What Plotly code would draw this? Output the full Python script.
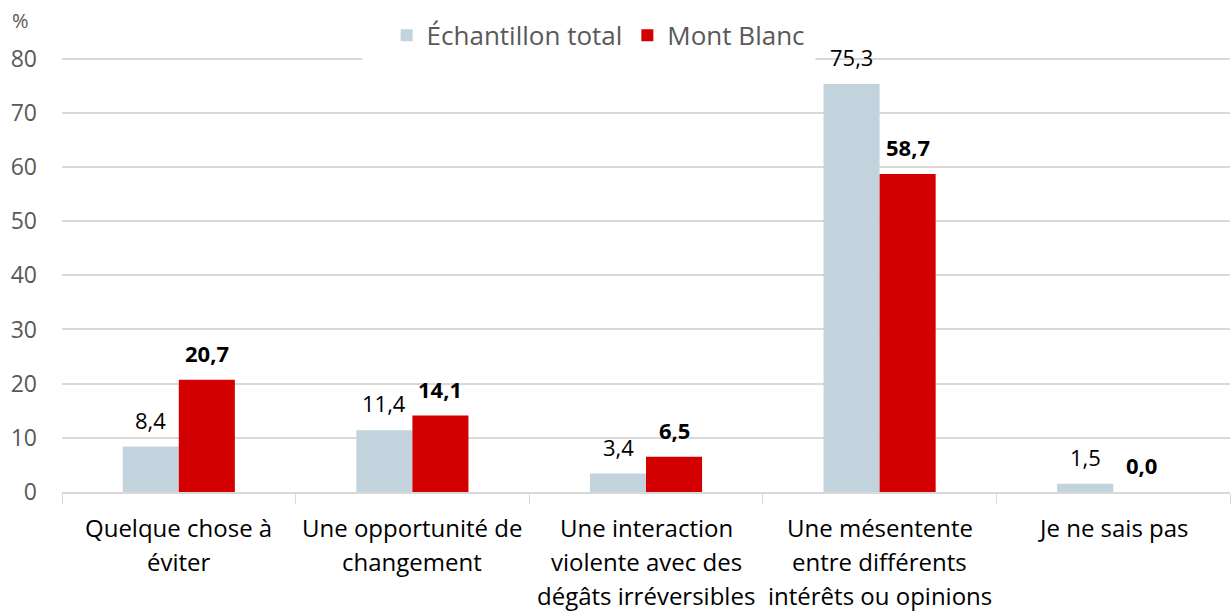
import plotly.graph_objects as go

# data
categories = ["Quelque chose à éviter", "Une opportunité de changement",
              "Une interaction violente avec des dégâts irréversibles",
              "Une mésentente entre différents intérêts ou opinions",
              "Je ne sais pas"]
cat_lines = [["Quelque chose à", "éviter"],
             ["Une opportunité de", "changement"],
             ["Une interaction", "violente avec des", "dégâts irréversibles"],
             ["Une mésentente", "entre différents", "intérêts ou opinions"],
             ["Je ne sais pas"]]
total_values = [8.4, 11.4, 3.4, 75.3, 1.5]
montblanc_values = [20.7, 14.1, 6.5, 58.7, 0.0]
series_names = ["Échantillon total", "Mont Blanc"]

GREY = "#C3D3DE"
RED = "#D20000"
FONT = "Open Sans"


def fr(v):
    return f"{v:.1f}".replace(".", ",")


fig = go.Figure()
fig.add_trace(go.Bar(
    x=categories, y=total_values, name=series_names[0],
    marker=dict(color=GREY, line=dict(width=0)),
))
fig.add_trace(go.Bar(
    x=categories, y=montblanc_values, name=series_names[1],
    marker=dict(color=RED, line=dict(width=0)),
))

annotations = []
# value labels above the bars
for cat, v in zip(categories, total_values):
    annotations.append(dict(
        x=cat, y=v, xref="x", yref="y", xshift=-28, yshift=10, yanchor="bottom",
        text=fr(v), showarrow=False,
        font=dict(family=FONT, size=22, color="#000000")
    ))
for cat, v in zip(categories, montblanc_values):
    annotations.append(dict(
        x=cat, y=v, xref="x", yref="y", xshift=28, yshift=10, yanchor="bottom",
        text="<b>" + fr(v) + "</b>", showarrow=False,
        font=dict(family=FONT, size=22, color="#000000")
    ))
# category labels, one line at a time to match the spacing
for cat, lines in zip(categories, cat_lines):
    for i, line in enumerate(lines):
        annotations.append(dict(
            x=cat, xref="x", y=0, yref="paper", yshift=-35 - 34 * i,
            text=line, showarrow=False, yanchor="middle",
            font=dict(family=FONT, size=24, color="#000000")
        ))
annotations.append(dict(
    x=0, xref="paper", y=1, yref="paper", xshift=-52, yshift=37,
    text="%", showarrow=False, xanchor="left", yanchor="middle",
    font=dict(family=FONT, size=20, color="#595959")
))

fig.update_layout(
    width=1231, height=612,
    margin=dict(l=62, r=1, t=57, b=120, autoexpand=False),
    paper_bgcolor="white", plot_bgcolor="white",
    barmode="group", bargap=0.52, bargroupgap=0,
    font=dict(family=FONT, color="#595959"),
    showlegend=True,
    legend=dict(orientation="h", x=0.459, xanchor="center", y=1.05, yanchor="middle",
                bgcolor="white", font=dict(family=FONT, size=26, color="#595959"),
                itemsizing="constant"),
    annotations=annotations,
    # white patch behind the legend that hides the top gridline there
    shapes=[dict(type="rect", xref="paper", yref="y", x0=0.257, x1=0.645, y0=79.6, y1=80.4,
                 fillcolor="white", line=dict(width=0), layer="above")],
    xaxis=dict(showticklabels=False, ticks="outside", tickson="boundaries",
               ticklen=10, tickcolor="#D9D9D9", showline=True, linecolor="#D9D9D9",
               linewidth=2, showgrid=False),
    yaxis=dict(range=[0, 80.3], dtick=10, showgrid=True, gridcolor="#D9D9D9",
               gridwidth=2, zeroline=False, showline=False, ticks="",
               tickfont=dict(family=FONT, size=23, color="#595959"), ticklabelstandoff=24),
)

fig.write_html("out.html", config={"displayModeBar": False},
               post_script="document.body.style.margin='0';")
